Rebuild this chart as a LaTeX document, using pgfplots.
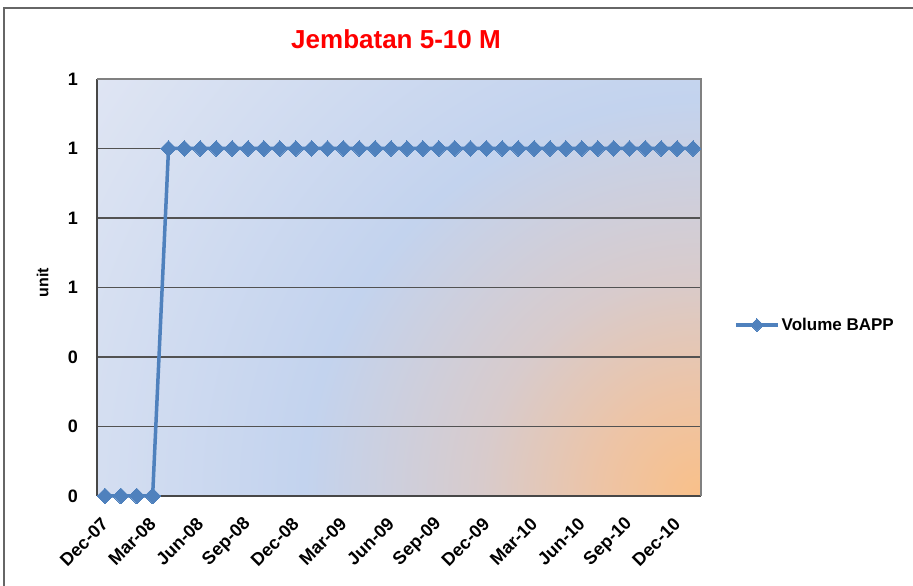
\documentclass[border=0pt]{standalone}
\usepackage{pgfplots}
\pgfplotsset{compat=1.18}
\usepackage{fontspec}
\setmainfont{Liberation Sans}
\definecolor{bgOrange}{HTML}{F9C089}
\definecolor{bgWarm}{HTML}{EDC4A6}
\definecolor{bgMid}{HTML}{D8CBCC}
\definecolor{bgBlue}{HTML}{C3D3EE}
\definecolor{bgLight}{HTML}{DFE5F3}
\definecolor{lineBlue}{HTML}{4F81BD}
\pgfdeclareradialshading{plotbg}{\pgfpoint{0bp}{0bp}}{color(0bp)=(bgOrange); color(3.5bp)=(bgWarm); color(7.5bp)=(bgMid); color(13.5bp)=(bgBlue); color(25bp)=(bgLight); color(50bp)=(bgLight)}
\begin{document}
\begin{tikzpicture}
% plot area background
\begin{scope}
\clip (97pt,90pt) rectangle (701pt,507pt);
\shade[shading=plotbg] (701pt,90pt) circle (734pt);
\end{scope}
% title
\node[anchor=base, text=red, font=\fontsize{26}{30}\selectfont\bfseries] at (396pt,537pt) {Jembatan 5-10 M};
\begin{axis}[
  at={(97pt,90pt)}, anchor=south west,
  scale only axis, width=604pt, height=417pt,
  xmin=-0.5, xmax=37.5, ymin=0, ymax=1.2,
  clip=false,
  axis x line*=bottom, axis y line*=left,
  axis line style={black!72, line width=1.3pt},
  major tick length=0pt,
  xtick={0,3,6,9,12,15,18,21,24,27,30,33,36},
  xticklabels={Dec-07,Mar-08,Jun-08,Sep-08,Dec-08,Mar-09,Jun-09,Sep-09,Dec-09,Mar-10,Jun-10,Sep-10,Dec-10},
  ytick={0,0.2,0.4,0.6,0.8,1.0,1.2},
  yticklabels={0,0,0,1,1,1,1},
  ymajorgrids,
  major grid style={black!68, line width=1.1pt},
  tick label style={font=\fontsize{18}{21}\selectfont\bfseries},
  yticklabel style={inner sep=0pt, xshift=-19pt},
  xticklabel shift=25pt,
  xticklabel style={rotate=45, anchor=east, inner sep=0pt},
  ylabel={unit},
  ylabel style={at={(axis description cs:-0.09,0.512)}, anchor=center, font=\fontsize{16}{19}\selectfont\bfseries},
  legend style={at={(axis description cs:1,0.41)}, anchor=west, xshift=30pt, draw=none, fill=none,
    font=\fontsize{17}{20}\selectfont\bfseries},
  legend image code/.code={\draw[mark repeat=2, mark phase=2, #1, mark size=4.5pt] plot coordinates {(0pt,0pt) (21pt,0pt) (42pt,0pt)};},
]
\addplot[color=lineBlue, line width=3.5pt, mark=square*, mark size=5.6pt,
  mark options={rotate=45, line width=0pt, fill=lineBlue}]
  coordinates {
  (0,0) (1,0) (2,0) (3,0) (4,1) (5,1) (6,1) (7,1) (8,1) (9,1)
  (10,1) (11,1) (12,1) (13,1) (14,1) (15,1) (16,1) (17,1) (18,1) (19,1)
  (20,1) (21,1) (22,1) (23,1) (24,1) (25,1) (26,1) (27,1) (28,1) (29,1)
  (30,1) (31,1) (32,1) (33,1) (34,1) (35,1) (36,1) (37,1)
  };
\addlegendentry{Volume BAPP}
\draw[black!50, line width=1.3pt] (rel axis cs:0,1) -- (rel axis cs:1,1) -- (rel axis cs:1,0);
\end{axis}
% chart area frame (partly outside the picture)
\draw[black!60, line width=1.5pt] (4pt,-20pt) -- (4pt,578pt) -- (940pt,578pt);
\pgfresetboundingbox
\useasboundingbox (0pt,0pt) rectangle (913pt,586pt);
\end{tikzpicture}
\end{document}
